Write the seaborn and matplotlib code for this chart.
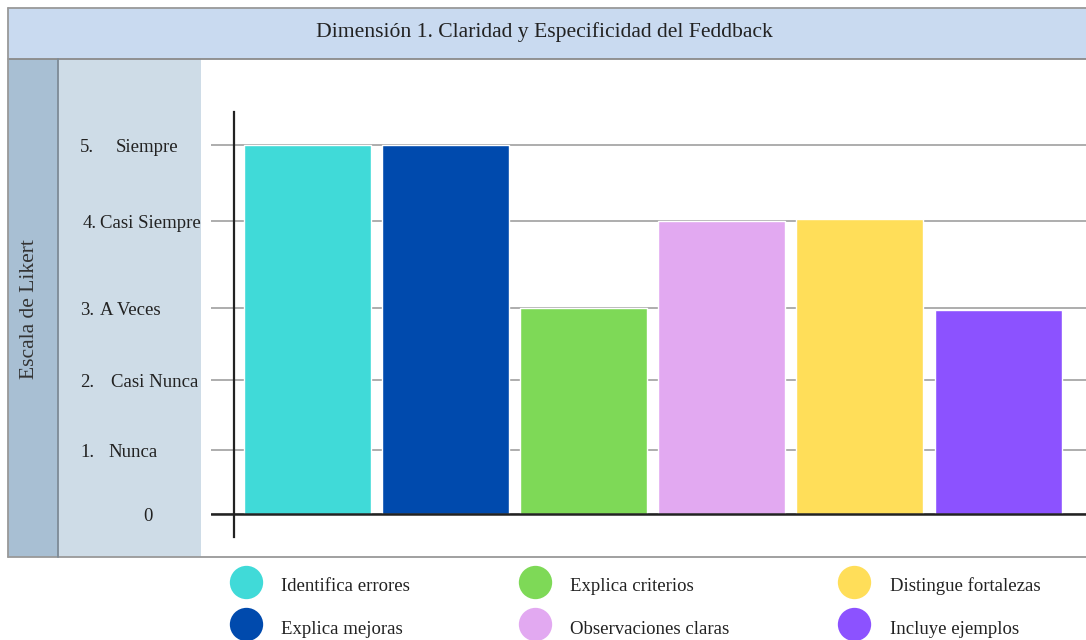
import numpy as np
import matplotlib
matplotlib.use("Agg")
import matplotlib.pyplot as plt
import matplotlib.transforms as mtransforms
from matplotlib.patches import Rectangle
from matplotlib.lines import Line2D
import seaborn as sns

# datos
categorias = ["Identifica errores", "Explica mejoras", "Explica criterios",
              "Observaciones claras", "Distingue fortalezas", "Incluye ejemplos"]
valores = [5, 5, 3, 4, 4.03, 2.97]
colores = ["#40dad8", "#004aad", "#7ed957", "#e2a9f1", "#ffde59", "#8c52ff"]
niveles = [0, 1, 2, 3, 4, 5]
numeros = ["0", "1.", "2.", "3.", "4.", "5."]
palabras = ["", "Nunca", "Casi Nunca", "A Veces", "Casi Siempre", "Siempre"]
titulo = "Dimensión 1. Claridad y Especificidad del Feddback"
eje_y = "Escala de Likert"

sns.set_style("white")
plt.rcParams["font.family"] = ["Liberation Serif", "DejaVu Serif"]

W, H = 1086, 640
fig = plt.figure(figsize=(W / 100, H / 100), dpi=100)

def px(x0, y0, x1, y1):
    return (x0 / W, 1 - y1 / H, (x1 - x0) / W, (y1 - y0) / H)

# fondos
for (x0, y0, x1, y1), fc in [((8, 8, 1086, 59), "#c9daf0"),
                             ((8, 59, 58, 557), "#a8bfd3"),
                             ((58, 59, 201, 557), "#cedce7")]:
    l, b, w, h = px(x0, y0, x1, y1)
    fig.patches.append(Rectangle((l, b), w, h, transform=fig.transFigure,
                                 facecolor=fc, edgecolor="none", zorder=-2))
for xs, ys, c in [([8 / W, 1], [1 - 8 / H] * 2, "#999999"),
                  ([8 / W, 1], [1 - 59 / H] * 2, "#8a8a8a"),
                  ([8 / W, 1], [1 - 557 / H] * 2, "#999999"),
                  ([8 / W] * 2, [1 - 8 / H, 1 - 557 / H], "#999999"),
                  ([58 / W] * 2, [1 - 59 / H, 1 - 557 / H], "#7d8a96")]:
    fig.add_artist(Line2D(xs, ys, color=c, lw=1.3, transform=fig.transFigure, zorder=-1))

fig.text(544 / W, 1 - 32 / H, titulo, ha="center", va="center", fontsize=15.6, color="#222222")
fig.text(30 / W, 1 - 309 / H, eje_y, ha="center", va="center", rotation=90,
         fontsize=15.5, color="#333333")

# escala no lineal de la imagen original
val_k = [-1, 0, 1, 2, 3, 4, 5, 6]
pix_k = [-64, 0, 64, 134, 206, 293, 369, 445]
fwd = lambda v: np.interp(v, val_k, pix_k)
inv = lambda p: np.interp(p, pix_k, val_k)

ax = fig.add_axes(px(211, 112, 1086, 537), zorder=1)
ax.set_facecolor("none")
sns.barplot(x=categorias, y=valores, hue=categorias, palette=colores,
            width=0.92, dodge=False, legend=False, saturation=1, ax=ax, zorder=3)
ax.set_yscale("function", functions=(fwd, inv))
ax.set_ylim(-0.359, 5.434)
ax.set_xlim(-0.699, 5.637)
ax.set_yticks(niveles)
ax.set_yticklabels([])
ax.tick_params(axis="y", length=0)
ax.set_xticks([])
ax.set_xlabel("")
ax.yaxis.grid(True, color="#a0a0a0", lw=1.2)
ax.set_axisbelow(True)
for s in ["top", "right", "bottom"]:
    ax.spines[s].set_visible(False)
ax.spines["left"].set_position(("data", -0.532))
ax.spines["left"].set_color("#222222")
ax.spines["left"].set_linewidth(1.6)
ax.axhline(0, color="#222222", lw=1.8, zorder=4)

# etiquetas de la escala en la columna izquierda
trans = mtransforms.blended_transform_factory(fig.transFigure, ax.transData)
trans = mtransforms.offset_copy(trans, fig=fig, y=-2.5, units="dots")
x_num = [143, 80, 80, 80, 83, 80]
x_pal = [0, 108, 111, 100, 100, 116]
for v, n, p, xn, xp in zip(niveles, numeros, palabras, x_num, x_pal):
    fig.text(xn / W, v, n, transform=trans, ha="left", va="center",
             fontsize=13.5, color="#222222")
    if p:
        fig.text(xp / W, v, p, transform=trans, ha="left", va="center",
                 fontsize=13.5, color="#222222")

handles = [Line2D([], [], marker="o", ls="", markersize=24, markerfacecolor=c,
                  markeredgecolor="none") for c in colores]
fig.legend(handles, categorias, loc="center", bbox_to_anchor=(637 / W, 1 - 606 / H),
           ncol=3, frameon=False, fontsize=13.5, handlelength=1.3, handleheight=1.6,
           handletextpad=1.25, columnspacing=6.0, labelspacing=1.0, labelcolor="#222222")

fig.savefig("out.png", dpi=100)
